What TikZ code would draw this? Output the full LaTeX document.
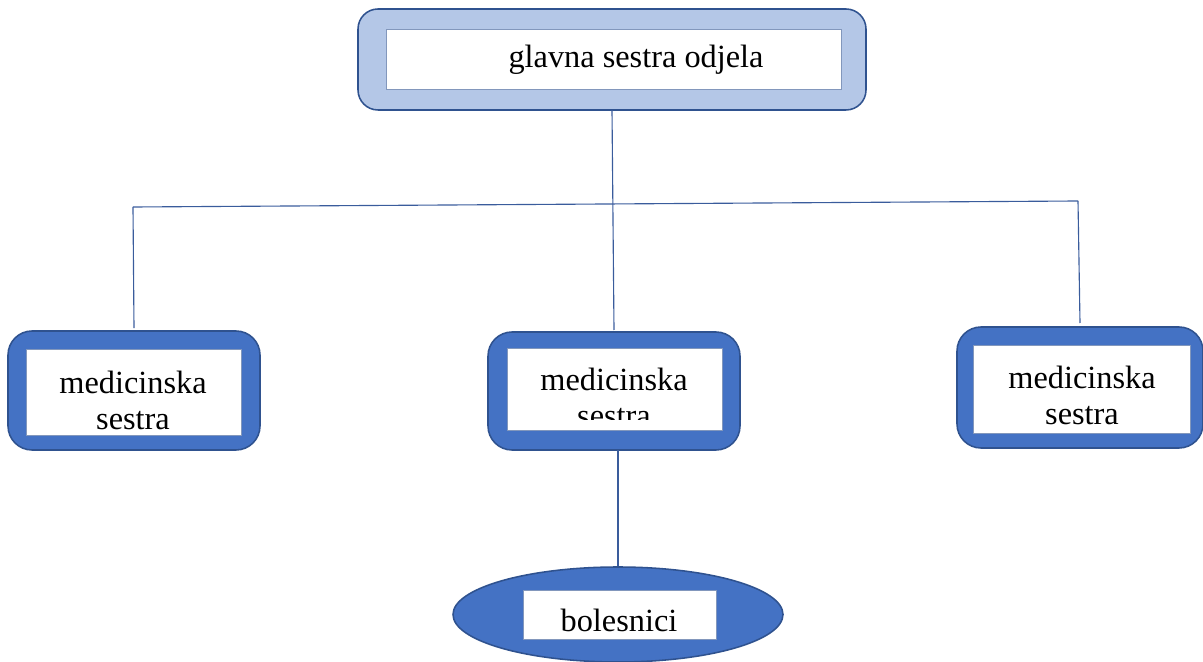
\documentclass[tikz,border=0pt]{standalone}
\usepackage{fontspec}
\setmainfont{Liberation Serif}
\usepackage{tikz}
\usetikzlibrary{shapes.geometric}
\usetikzlibrary{positioning}
\definecolor{boxblue}{HTML}{4472C4}
\definecolor{paleblue}{HTML}{B4C7E7}
\definecolor{edgeblue}{HTML}{2F528F}
\definecolor{lineblue}{HTML}{3A5C9C}
\tikzset{
    outerbox/.style = {rectangle, rounded corners=0.6cm, draw=edgeblue, line width=1.1pt, fill=boxblue, inner sep=0pt, outer sep=0pt},
    topbox/.style = {outerbox, rounded corners=0.5cm, fill=paleblue},
    innerbox/.style = {rectangle, draw=edgeblue!60, line width=0.5pt, fill=white, inner sep=0pt, outer sep=0pt},
    txt/.style = {align=center, inner sep=0pt, font=\fontsize{23}{25.6}\selectfont},
}

\begin{document}
\begin{tikzpicture}[
	thick
]
\tikzset{
    conn/.style = {-, draw=lineblue, line width=0.8pt}
}
\useasboundingbox (0,0) rectangle (30.075,-16.55);
% top
\node[topbox, minimum width=12.7cm, minimum height=2.525cm] at (15.3,-1.4875) (top) {};
\node[innerbox, minimum width=11.375cm, minimum height=1.5cm] at (15.3375,-1.475) (topin) {};
\node[txt] at (15.9,-1.5) (toptxt) {glavna sestra odjela};
%
\node[outerbox, minimum width=6.3cm, minimum height=2.975cm] at (3.35,-9.7625) (left) {};
\node[innerbox, minimum width=5.375cm, minimum height=2.15cm] at (3.3375,-9.8) (leftin) {};
\node[txt] at (3.325,-10.0) (lefttxt) {medicinska\\sestra};
%
\node[outerbox, minimum width=6.3cm, minimum height=2.95cm] at (15.35,-9.775) (mid) {};
\node[innerbox, minimum width=5.375cm, minimum height=2.05cm] at (15.3625,-9.725) (midin) {};
\begin{scope}
\clip (12.7,-8.7) rectangle (18.0,-10.5);
\node[txt] at (15.35,-9.925) (midtxt) {medicinska\\sestra};
\end{scope}
%
\node[outerbox, minimum width=6.15cm, minimum height=3.025cm] at (27.0,-9.6875) (right) {};
\node[innerbox, minimum width=5.425cm, minimum height=2.2cm] at (27.0375,-9.725) (rightin) {};
\node[txt] at (27.05,-9.875) (righttxt) {medicinska\\sestra};
%
\node[ellipse, draw=edgeblue, line width=1.1pt, fill=boxblue, inner sep=0pt, minimum width=8.25cm, minimum height=2.375cm] at (15.45,-15.3625) (ell) {};
\node[innerbox, minimum width=4.825cm, minimum height=1.225cm] at (15.4875,-15.3625) (ellin) {};
\node[txt] at (15.475,-15.5) (elltxt) {bolesnici};
%
\coordinate (hl) at (3.325,-5.175);
\coordinate (hr) at (26.95,-5.025);
\draw[conn] (top.south) -- ([yshift=0.05cm]mid.north);
\draw[conn] (hl) -- (hr);
\draw[conn] (hl) -- ([yshift=0.07cm]left.north);
\draw[conn] (hr) -- ([yshift=0.1cm]right.north);
\draw[conn] (ell.north |- mid.south) -- (ell.north);
\end{tikzpicture}
\end{document}
